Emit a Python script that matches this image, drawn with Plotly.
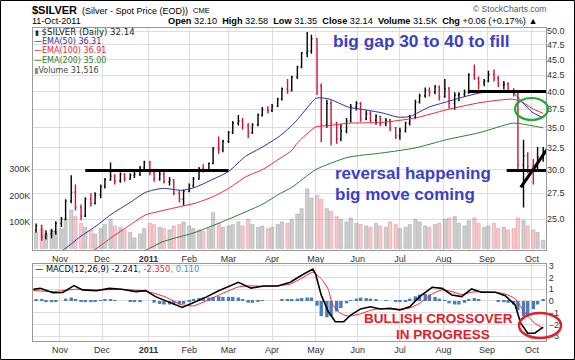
import plotly.graph_objects as go
import pandas as pd

# ---------------- price bars (two bars per week: Tue / Fri) ----------------
bar_dates = pd.bdate_range("2010-10-15", "2011-10-11", freq="C", weekmask="Tue Fri")

opens = [24.0, 24.4, 23.4, 23.7, 23.9,
         24.6, 25.0, 26.7, 27.6, 26.1, 25.3, 26.9, 26.5, 27.3,
         28.2, 28.9, 29.3, 28.8, 29.5, 29.0, 29.4, 29.5, 30.2,
         30.8, 29.7, 29.0, 29.5, 28.7, 28.9, 27.5, 26.9,
         27.7, 28.3, 29.0, 30.1, 30.0, 30.7, 32.4, 32.3,
         33.3, 34.4, 35.6, 35.9, 35.3, 34.4, 35.4, 36.7, 37.4,
         37.3, 37.9, 38.9, 40.4, 40.1, 42.2, 43.8, 46.1, 46.4,
         48.6, 40.8, 35.4, 38.3, 35.6, 33.6, 34.6, 35.9, 37.8,
         38.3, 36.2, 36.9, 36.0, 36.5, 35.5, 36.0, 35.0,
         34.0, 34.6, 35.6, 36.4, 38.5, 39.4, 40.2, 39.9, 40.7,
         39.3, 40.4, 38.3, 39.5, 39.6, 39.9, 42.5, 42.0, 41.3,
         41.6, 42.6, 42.0, 41.0, 41.1, 40.0, 39.8, 30.5, 31.6,
         30.4, 30.3, 31.4]
highs = [24.6, 24.5, 24.0, 24.1, 24.8,
         25.2, 26.9, 29.4, 28.4, 26.4, 27.1, 27.5, 27.6, 28.4,
         29.1, 30.8, 29.5, 29.7, 29.6, 29.6, 29.8, 30.4, 31.0,
         31.0, 30.1, 29.8, 29.8, 29.2, 29.0, 27.8, 27.9,
         28.5, 29.2, 30.3, 30.6, 30.8, 32.6, 33.9, 33.5,
         34.6, 35.9, 36.7, 36.3, 35.6, 35.6, 36.9, 37.8, 37.9,
         38.2, 39.1, 40.6, 41.9, 42.4, 44.0, 46.3, 49.8, 49.3,
         48.7, 41.2, 38.8, 38.7, 35.8, 35.5, 36.3, 38.2, 38.6,
         38.5, 37.3, 37.2, 36.8, 36.6, 36.3, 36.2, 35.1,
         35.0, 35.8, 36.7, 38.8, 39.7, 40.6, 40.6, 41.0, 40.9,
         41.9, 40.7, 39.9, 39.9, 40.3, 42.8, 44.2, 42.3, 41.9,
         43.2, 43.4, 42.4, 41.6, 41.4, 40.5, 40.2, 33.5, 32.0,
         31.2, 32.6, 32.6]
lows = [23.8, 23.1, 23.2, 23.3, 23.6,
        24.3, 24.9, 26.5, 25.8, 24.9, 25.2, 26.2, 26.4, 27.0,
        28.0, 28.8, 28.4, 28.6, 28.7, 28.9, 29.1, 29.3, 29.9,
        29.4, 28.7, 28.8, 28.5, 28.3, 27.3, 26.6, 26.3,
        27.6, 28.1, 28.9, 29.7, 29.9, 30.6, 31.8, 32.0,
        33.1, 34.2, 35.3, 34.8, 33.7, 34.2, 35.2, 36.5, 36.9,
        37.1, 37.8, 38.7, 39.7, 40.0, 41.9, 43.6, 45.4, 46.0,
        39.5, 33.2, 35.0, 32.8, 33.0, 33.3, 34.3, 35.7, 37.3,
        35.8, 36.0, 35.7, 35.4, 35.2, 35.2, 34.6, 33.6,
        33.5, 34.4, 35.3, 36.2, 38.3, 39.1, 39.3, 39.6, 38.7,
        39.1, 37.6, 37.4, 38.6, 39.2, 39.7, 41.8, 40.3, 40.8,
        41.4, 41.5, 40.7, 40.3, 39.8, 39.3, 29.9, 26.1, 29.6,
        28.4, 30.0, 30.9]
closes = [24.4, 23.4, 23.7, 23.9, 24.6,
          25.0, 26.7, 27.6, 26.1, 25.3, 26.9, 26.5, 27.3, 28.2,
          28.9, 29.3, 28.8, 29.5, 29.0, 29.4, 29.5, 30.2, 30.8,
          29.7, 29.0, 29.5, 28.7, 28.9, 27.5, 26.9, 27.7,
          28.3, 29.0, 30.1, 30.0, 30.7, 32.4, 32.3, 33.3,
          34.4, 35.6, 35.9, 35.3, 34.4, 35.4, 36.7, 37.4, 37.3,
          37.9, 38.9, 40.4, 40.1, 42.2, 43.8, 46.1, 46.4, 48.6,
          40.8, 35.4, 38.3, 35.6, 33.6, 34.6, 35.9, 37.8, 38.3,
          36.2, 36.9, 36.0, 36.5, 35.5, 36.0, 35.0, 34.0,
          34.6, 35.6, 36.4, 38.5, 39.4, 40.2, 39.9, 40.7, 39.3,
          40.4, 38.3, 39.5, 39.6, 39.9, 42.5, 42.0, 41.3, 41.6,
          42.6, 42.0, 41.0, 41.1, 40.0, 39.8, 30.5, 31.6, 30.4,
          30.3, 31.4, 32.14]
volume_k = [60, 75, 55, 70, 65,
            75, 110, 145, 120, 95, 80, 70, 55, 75,
            90, 110, 85, 80, 70, 60, 40, 55, 75,
            95, 90, 80, 75, 70, 85, 90, 100,
            85, 75, 70, 65, 75, 135, 95, 80,
            85, 90, 100, 85, 110, 90, 80, 85, 75,
            80, 90, 100, 95, 110, 130, 150, 225, 190,
            200, 185, 150, 140, 120, 110, 100, 115, 95,
            90, 85, 80, 95, 85, 80, 100, 90,
            75, 80, 90, 110, 100, 85, 80, 90, 95,
            110, 115, 120, 95, 85, 105, 115, 95, 80,
            85, 95, 75, 80, 70, 75, 115, 105, 85,
            70, 60, 31.5]
macd_hist = [0.1, 0.15, -0.1, -0.1, -0.05,
             0.0, 0.2, 0.3, 0.1, -0.05, -0.1, -0.1, -0.05, 0.05,
             0.1, 0.15, 0.05, 0.0, 0.0, -0.05, -0.1, -0.1, 0.0,
             0.0, -0.15, -0.25, -0.3, -0.3, -0.3, -0.3, -0.25,
             -0.1, 0.1, 0.25, 0.3, 0.3, 0.35, 0.4, 0.35,
             0.35, 0.35, 0.3, 0.1, -0.15, -0.15, -0.05, 0.05, 0.0,
             0.0, 0.0, 0.1, 0.15, 0.15, 0.2, 0.25, 0.3, 0.3,
             -0.4, -1.3, -1.4, -1.3, -0.9, -0.6, -0.2, 0.05, 0.2,
             0.3, 0.25, 0.2, 0.1, 0.0, 0.05, 0.0, -0.05,
             -0.1, -0.05, 0.2, 0.4, 0.55, 0.6, 0.55, 0.35, 0.2,
             0.05, -0.2, -0.3, -0.3, -0.15, 0.15, 0.25, 0.1, 0.0,
             0.0, 0.0, -0.05, -0.1, -0.15, -0.3, -0.8, -1.3, -1.2,
             -0.7, -0.3, 0.11]

# ---------------- moving averages ----------------
ema50_dates = ["2010-10-15", "2010-11-03", "2010-11-15", "2010-11-27", "2010-12-08", "2010-12-20",
               "2011-01-01", "2011-01-13", "2011-01-27", "2011-02-05", "2011-02-17", "2011-03-01",
               "2011-03-13", "2011-03-25", "2011-04-06", "2011-04-15", "2011-04-20", "2011-05-02",
               "2011-05-05", "2011-05-12", "2011-05-25", "2011-06-06", "2011-06-18", "2011-06-30",
               "2011-07-08", "2011-07-22", "2011-08-03", "2011-08-15", "2011-08-27", "2011-09-08",
               "2011-09-19", "2011-09-26", "2011-10-03", "2011-10-11"]
ema50 = [21.5, 22.3, 23.4, 24.4, 25.5, 26.5, 27.6, 28.0, 27.8, 28.1, 28.9, 29.8, 31.5, 32.6,
         33.9, 35.3, 36.3, 39.0, 39.1, 38.9, 37.8, 37.4, 37.0, 36.4, 36.5, 37.8, 38.5, 39.2,
         39.8, 40.0, 39.9, 38.5, 37.1, 36.31]
ema100_dates = ["2010-10-15", "2010-11-25", "2010-12-08", "2010-12-20", "2011-01-01", "2011-01-13",
                "2011-01-26", "2011-02-05", "2011-02-17", "2011-03-01", "2011-03-13", "2011-03-25",
                "2011-04-06", "2011-04-15", "2011-04-19", "2011-05-02", "2011-05-12", "2011-05-25",
                "2011-06-18", "2011-07-12", "2011-08-03", "2011-08-27", "2011-09-19", "2011-09-26",
                "2011-10-03", "2011-10-11"]
ema100 = [20.6, 22.3, 23.4, 24.4, 25.4, 25.8, 26.2, 26.5, 27.1, 28.0, 29.2, 30.0, 31.2, 32.2,
          33.1, 35.1, 35.3, 35.6, 35.7, 36.3, 37.4, 38.4, 38.9, 38.5, 37.6, 36.91]
ema200_dates = ["2010-10-15", "2011-01-01", "2011-01-13", "2011-02-05", "2011-03-01", "2011-03-25",
                "2011-04-07", "2011-04-15", "2011-05-02", "2011-05-25", "2011-06-18", "2011-07-12",
                "2011-08-03", "2011-08-27", "2011-09-19", "2011-09-26", "2011-10-11"]
ema200 = [19.0, 22.3, 23.0, 23.8, 25.0, 26.4, 27.5, 28.1, 30.0, 31.4, 31.9, 32.5, 33.5, 34.4,
          35.6, 35.5, 35.0]

# ---------------- MACD(12,26,9) ----------------
macd_dates = ["2010-10-13", "2010-10-18", "2010-10-27", "2010-11-03", "2010-11-11", "2010-11-17",
              "2010-11-27", "2010-12-06", "2010-12-15", "2010-12-25", "2011-01-01", "2011-01-08",
              "2011-01-15", "2011-01-27", "2011-02-03", "2011-02-13", "2011-02-22", "2011-03-08",
              "2011-03-17", "2011-03-26", "2011-04-05", "2011-04-14", "2011-04-22", "2011-04-30",
              "2011-05-02", "2011-05-06", "2011-05-11", "2011-05-16", "2011-05-22", "2011-05-27",
              "2011-06-03", "2011-06-10", "2011-06-17", "2011-06-24", "2011-07-01", "2011-07-08",
              "2011-07-15", "2011-07-24", "2011-07-31", "2011-08-07", "2011-08-14", "2011-08-21",
              "2011-08-28", "2011-09-07", "2011-09-14", "2011-09-21", "2011-09-25", "2011-09-30",
              "2011-10-05", "2011-10-11"]
macd_line = [1.0, 1.08, 0.7, 0.72, 1.31, 0.95, 0.87, 1.08, 1.0, 0.8, 0.88, 0.37, 0.03, -0.55,
             -0.2, 0.33, 0.88, 1.6, 1.1, 1.28, 1.28, 1.6, 2.2, 2.73, 2.3, 0.5, -0.9, -1.77,
             -1.77, -1.2, -0.68, -0.49, -0.68, -0.63, -0.77, -0.49, 0.37, 1.17, 1.08, 0.51,
             0.37, 1.03, 0.74, 0.74, 0.45, -0.34, -1.9, -2.76, -2.75, -2.241]
signal_dates = ["2010-10-13", "2010-10-27", "2010-11-12", "2010-11-27", "2010-12-15", "2011-01-01",
                "2011-01-15", "2011-01-26", "2011-02-04", "2011-02-13", "2011-02-22", "2011-03-08",
                "2011-03-17", "2011-03-26", "2011-04-05", "2011-04-14", "2011-04-23", "2011-04-30",
                "2011-05-06", "2011-05-11", "2011-05-14", "2011-05-19", "2011-05-25", "2011-06-03",
                "2011-06-10", "2011-06-17", "2011-06-24", "2011-07-01", "2011-07-08", "2011-07-15",
                "2011-07-24", "2011-07-31", "2011-08-07", "2011-08-14", "2011-08-21", "2011-08-28",
                "2011-09-07", "2011-09-14", "2011-09-21", "2011-09-25", "2011-09-30", "2011-10-05",
                "2011-10-11"]
signal_line = [0.9, 0.8, 1.0, 0.95, 0.98, 0.85, 0.35, -0.3, -0.42, 0.0, 0.5, 1.2, 1.3, 1.25,
               1.3, 1.45, 2.0, 2.45, 1.9, 1.0, -0.3, -1.0, -1.3, -1.1, -0.8, -0.65, -0.65, -0.7,
               -0.6, -0.2, 0.6, 0.95, 0.8, 0.55, 0.75, 0.8, 0.75, 0.6, 0.2, -0.5, -1.3, -1.9, -2.35]

# ---------------- axis ticks ----------------
month_ticks = ["2010-11-01", "2010-12-01", "2011-01-03", "2011-02-01", "2011-03-01", "2011-04-01",
               "2011-05-02", "2011-06-01", "2011-07-01", "2011-08-01", "2011-09-01", "2011-10-03"]
month_labels = ["Nov", "Dec", "<b>2011</b>", "Feb", "Mar", "Apr", "May", "Jun", "Jul", "Aug", "Sep", "Oct"]
price_ticks = [25.0, 27.5, 30.0, 32.5, 35.0, 37.5, 40.0, 42.5, 45.0, 47.5, 50.0]
volume_ticks = [100000, 200000, 300000]
volume_labels = ["100K", "200K", "300K"]
macd_ticks = [-3, -2, -1, 0, 1, 2, 3]

# hand-drawn trend lines (dates, prices)
line_support_x, line_support_y = ["2010-11-19", "2011-03-01"], [29.9, 29.9]
line_gap_top_x, line_gap_top_y = ["2011-08-19", "2011-10-13"], [40.0, 40.0]
line_gap_bot_x, line_gap_bot_y = ["2011-09-15", "2011-10-14"], [29.9, 29.9]
line_trend_x, line_trend_y = ["2011-09-25", "2011-10-14"], [28.1, 32.4]

X_RANGE = ["2010-10-12 19:00", "2011-10-13 00:00"]
GRID = "#dedede"
TICKFONT = dict(family="Liberation Sans, Arial, sans-serif", size=9, color="#333")
CANDLE_RED = "#d0143c"

fig = go.Figure()

vol_fill = ["rgba(160,160,160,0.5)" if c >= o else "rgba(235,130,140,0.45)" for o, c in zip(opens, closes)]
vol_edge = ["rgba(120,120,120,0.6)" if c >= o else "rgba(215,100,110,0.6)" for o, c in zip(opens, closes)]
fig.add_trace(go.Bar(x=bar_dates, y=[v * 1000 for v in volume_k], xaxis="x", yaxis="y",
                     marker=dict(color=vol_fill, line=dict(color=vol_edge, width=0.5)),
                     hoverinfo="skip"))

fig.add_trace(go.Scatter(x=ema200_dates, y=ema200, xaxis="x", yaxis="y3", mode="lines",
                         line=dict(color="#2f7d32", width=1, shape="spline", smoothing=0.6)))
fig.add_trace(go.Scatter(x=ema100_dates, y=ema100, xaxis="x", yaxis="y3", mode="lines",
                         line=dict(color="#e8283c", width=1, shape="spline", smoothing=0.6)))
fig.add_trace(go.Scatter(x=ema50_dates, y=ema50, xaxis="x", yaxis="y3", mode="lines",
                         line=dict(color="#2c2c9c", width=1, shape="spline", smoothing=0.6)))

fig.add_trace(go.Ohlc(x=bar_dates, open=opens, high=highs, low=lows, close=closes,
                      xaxis="x", yaxis="y3", tickwidth=0.25,
                      increasing=dict(line=dict(color="black", width=1.4)),
                      decreasing=dict(line=dict(color=CANDLE_RED, width=1.4))))

for lx, ly in [(line_support_x, line_support_y), (line_gap_top_x, line_gap_top_y),
               (line_gap_bot_x, line_gap_bot_y), (line_trend_x, line_trend_y)]:
    fig.add_trace(go.Scatter(x=lx, y=ly, xaxis="x", yaxis="y3", mode="lines",
                             line=dict(color="black", width=3), hoverinfo="skip"))

# MACD panel
fig.add_trace(go.Bar(x=bar_dates, y=macd_hist, xaxis="x2", yaxis="y2",
                     marker=dict(color="#4a7bbf", line=dict(width=0))))
fig.add_trace(go.Scatter(x=signal_dates, y=signal_line, xaxis="x2", yaxis="y2", mode="lines",
                         line=dict(color="#e8283c", width=1, shape="spline", smoothing=0.5)))
fig.add_trace(go.Scatter(x=macd_dates, y=macd_line, xaxis="x2", yaxis="y2", mode="lines",
                         line=dict(color="black", width=1.6)))


def px_x(px):
    return (px - 33) / 513.0


def px_y(py):
    return (341 - py) / 313.0


ann = []


def text(s, px, py, size, color="#000", xanchor="left", family="Liberation Sans, Arial, sans-serif"):
    ann.append(dict(text=s, x=px_x(px), y=px_y(py), xref="paper", yref="paper", showarrow=False,
                    xanchor=xanchor, yanchor="middle", font=dict(size=size, color=color, family=family)))


text("<b>$SILVER</b>", 30, 10, 11)
text("(Silver - Spot Price (EOD))", 80, 10.5, 9)
text("CME", 191, 10.5, 7.5)
text("© StockCharts.com", 548, 9, 8.5, color="#555", xanchor="right")
text("11-Oct-2011", 30, 21, 9)
text("<b>Open</b> 32.10  <b>High</b> 32.58  <b>Low</b> 31.35  <b>Close</b> 32.14  <b>Volume</b> 31.5K  "
     "<b>Chg</b> +0.06 (+0.17%) ▲", 540, 21, 9.2, xanchor="right")

DV = "DejaVu Sans, Verdana, sans-serif"
text("<span style='font-size:7px'>▮</span> $SILVER (Daily) 32.14", 33, 32, 8.6, color="#222", family=DV)
text("—EMA(50) 36.31", 32, 41.5, 8, color="#2c2c9c", family=DV)
text("—EMA(100) 36.91", 32, 51, 8, color="#e8283c", family=DV)
text("—EMA(200) 35.00", 32, 60.5, 8, color="#2f7d32", family=DV)
text("<span style='color:#888'>▮</span>Volume 31,516", 32, 70, 8, color="#444", family=DV)
text("— MACD(12,26,9) -2.241<span style='color:#e8283c'>, -2.350</span>"
     "<span style='color:#4a90d0'>, 0.110</span>", 33, 269, 8.3, color="#111", family=DV)

BLUE = "#3b3fc6"
text("<b>big gap 30 to 40 to fill</b>", 421, 41, 17.3, color=BLUE, xanchor="center")
text("<b>reversal happening</b>", 333, 174, 17, color=BLUE)
text("<b>big move coming</b>", 333, 194, 17, color=BLUE)
RED = "#e0202a"
text("<b>BULLISH CROSSOVER</b>", 438, 318, 13.5, color=RED, xanchor="center")
text("<b>IN PROGRESS</b>", 443, 334, 13.5, color=RED, xanchor="center")

shapes = [
    dict(type="circle", xref="paper", yref="paper", x0=px_x(515), x1=px_x(548), y0=px_y(120), y1=px_y(98),
         line=dict(color="#22aa33", width=2.2)),
    dict(type="circle", xref="paper", yref="paper", x0=px_x(519), x1=px_x(561), y0=px_y(338), y1=px_y(313),
         line=dict(color="#e0202a", width=2.5)),
    dict(type="rect", xref="paper", yref="paper", x0=px_x(0.5), x1=px_x(574.5), y0=px_y(359.5), y1=px_y(0.5),
         line=dict(color="black", width=1)),
]

fig.update_layout(
    width=575, height=360, margin=dict(l=33, r=29, t=28, b=19, autoexpand=False),
    paper_bgcolor="white", plot_bgcolor="white", showlegend=False, bargap=0.2,
    annotations=ann, shapes=shapes,
    xaxis=dict(domain=[0, 1], anchor="y", type="date", range=X_RANGE, tickvals=month_ticks,
               ticktext=month_labels, showgrid=True, gridcolor=GRID, gridwidth=1, ticks="",
               tickfont=TICKFONT, showline=True, mirror=True, linecolor="#999", automargin=False,
               rangeslider=dict(visible=False), zeroline=False),
    yaxis=dict(domain=[0.2907, 1], anchor="x", side="left", range=[-6000, 832000],
               tickvals=volume_ticks, ticktext=volume_labels, showgrid=False, zeroline=False,
               ticks="", tickfont=TICKFONT, showline=True, mirror=True, linecolor="#999",
               automargin=False),
    yaxis3=dict(overlaying="y", anchor="x", side="right", type="log", range=[1.3486, 1.7038],
                tickvals=price_ticks, ticktext=["%.1f" % v for v in price_ticks], automargin=False,
                showgrid=True, gridcolor=GRID, ticks="", tickfont=TICKFONT, zeroline=False),
    xaxis2=dict(domain=[0, 1], anchor="y2", type="date", range=X_RANGE, tickvals=month_ticks,
                ticktext=month_labels, showgrid=True, gridcolor=GRID, ticks="", tickfont=TICKFONT,
                showline=True, mirror=True, linecolor="#999", zeroline=False, automargin=False),
    yaxis2=dict(domain=[0, 0.246], anchor="x2", side="right", range=[-3.42, 3.16], tickvals=macd_ticks,
                showgrid=True, gridcolor=GRID, zeroline=False, ticks="", tickfont=TICKFONT,
                showline=True, mirror=True, linecolor="#999", automargin=False),
)

fig.write_html("out.html", config={"displayModeBar": False},
               post_script="document.body.style.margin='0';document.body.style.overflow='hidden';")
